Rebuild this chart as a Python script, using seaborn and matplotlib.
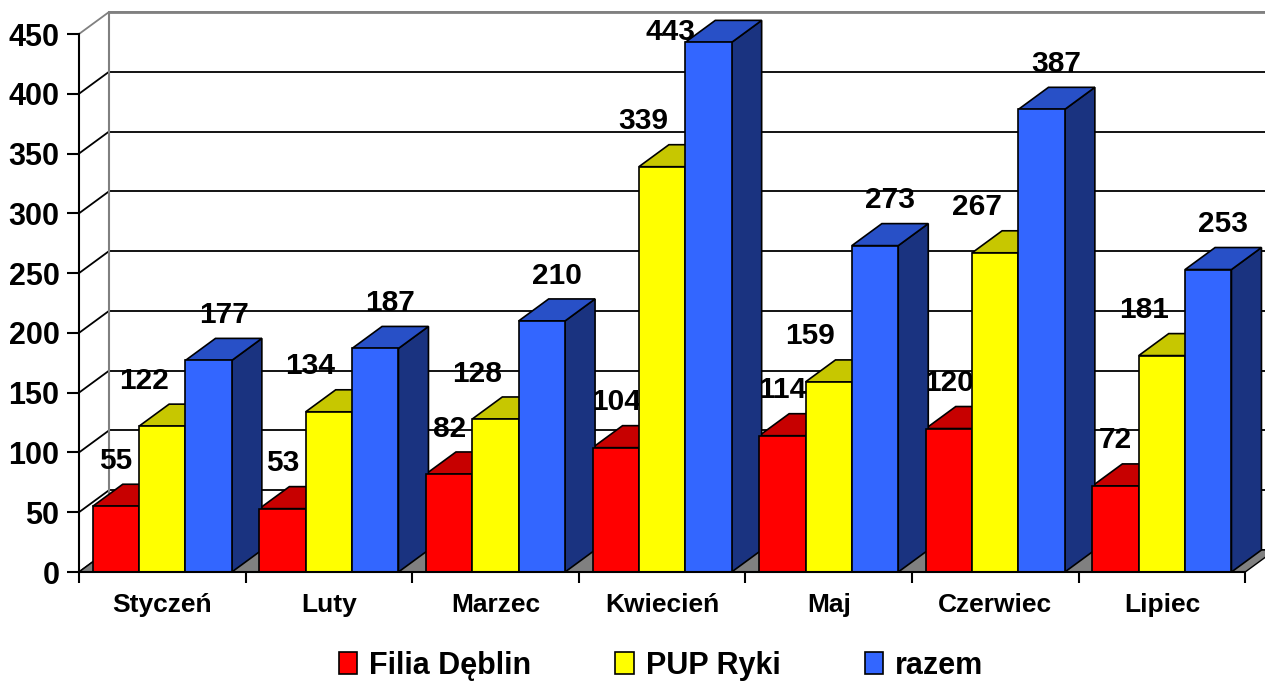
import numpy as np
import pandas as pd
import matplotlib
matplotlib.use("Agg")
import matplotlib.pyplot as plt
from matplotlib.patches import Polygon
from matplotlib.colors import to_rgb
import seaborn as sns

# ---- data ----
months = ["Styczeń", "Luty", "Marzec", "Kwiecień", "Maj", "Czerwiec", "Lipiec"]
filia_deblin = [55, 53, 82, 104, 114, 120, 72]
pup_ryki = [122, 134, 128, 339, 159, 267, 181]
razem = [177, 187, 210, 443, 273, 387, 253]
series_names = ["Filia Dęblin", "PUP Ryki", "razem"]
y_ticks = [0, 50, 100, 150, 200, 250, 300, 350, 400, 450]

colors = ["#FF0000", "#FFFF00", "#3366FF"]
# horizontal nudge of the value labels per series (category units)
label_shift = {"#FF0000": 0.0, "#FFFF00": -0.11, "#3366FF": 0.09}

df = pd.DataFrame({
    "month": months * 3,
    "series": [series_names[0]] * len(months) + [series_names[1]] * len(months) + [series_names[2]] * len(months),
    "value": filia_deblin + pup_ryki + razem,
})

sns.set_style("white")
plt.rcParams["font.family"] = ["Liberation Sans", "DejaVu Sans"]
plt.rcParams["font.weight"] = "bold"
for k in ["text.color", "axes.labelcolor", "xtick.color", "ytick.color"]:
    plt.rcParams[k] = "black"

W, H = 1265, 682
fig = plt.figure(figsize=(W / 100, H / 100), dpi=100)
ax_left, ax_bottom_px, ax_top_px, ax_right = 79, 572, 10, 1265
ax = fig.add_axes([ax_left / W, (H - ax_bottom_px) / H, (ax_right - ax_left) / W, (ax_bottom_px - ax_top_px) / H])

px_per_cat = 166.6
px_per_unit = 538 / 450.0
xmax = -0.5 + (ax_right - ax_left) / px_per_cat
ymax = (ax_bottom_px - ax_top_px) / px_per_unit

sns.barplot(data=df, x="month", y="value", hue="series", order=months, hue_order=series_names,
            palette=colors, width=0.835, edgecolor="black", linewidth=1.2, saturation=1,
            ax=ax, zorder=3)

ax.set_xlim(-0.5, xmax)
ax.set_ylim(0, ymax)

# depth offsets for pseudo-3D
dx = 30 / px_per_cat
dy = 22 / px_per_unit
n = len(months)

# back wall gridlines and side-wall diagonals
for v in y_ticks:
    c = "#808080" if v == y_ticks[-1] else "black"
    ax.plot([-0.5 + dx, xmax + 1], [v + dy, v + dy], color=c, lw=1.3, zorder=1, clip_on=True)
    ax.plot([-0.5, -0.5 + dx], [v, v + dy], color=c, lw=1.3, zorder=1, clip_on=False)
ax.plot([-0.5 + dx, -0.5 + dx], [dy, y_ticks[-1] + dy], color="#808080", lw=1.5, zorder=1.1)
ax.plot([-0.5 + dx, xmax + 1], [y_ticks[-1] + dy] * 2, color="#808080", lw=2, zorder=1.1, clip_on=False)

# floor
floor = Polygon([(-0.5, 0), (n - 0.5, 0), (n - 0.5 + dx, dy), (-0.5 + dx, dy)], closed=True,
                facecolor="#808080", edgecolor="black", lw=1, zorder=1.5)
ax.add_patch(floor)


def shade(c, f):
    r, g, b = to_rgb(c)
    return (r * f, g * f, b * f)


label_top = 452
# top and side faces from the seaborn bars
bars = [p for p in ax.patches if p is not floor and p.get_height() > 0]
for p in bars:
    x0 = p.get_x()
    x1 = x0 + p.get_width()
    h = p.get_height()
    fc = p.get_facecolor()
    side = Polygon([(x1, 0), (x1, h), (x1 + dx, h + dy), (x1 + dx, dy)], closed=True,
                   facecolor=shade(fc, 0.5), edgecolor="black", lw=1.2, zorder=2)
    top = Polygon([(x0, h), (x1, h), (x1 + dx, h + dy), (x0 + dx, h + dy)], closed=True,
                  facecolor=shade(fc, 0.78), edgecolor="black", lw=1.2, zorder=2)
    ax.add_patch(side)
    ax.add_patch(top)
    key = matplotlib.colors.to_hex(fc).upper()
    ly = h + 38
    lx = x0 + p.get_width() / 2 + label_shift.get(key, 0.0)
    if ly > label_top:
        # no room above the bar: the label slides to the left of it
        ly = label_top
        lx = x0 + p.get_width() / 2 - 0.23
    ax.text(lx, ly, f"{int(round(h))}", ha="center", va="center",
            fontsize=21.5, fontweight="bold", color="black", zorder=1.8)

# axes styling
for s in ["top", "right"]:
    ax.spines[s].set_visible(False)
ax.spines["left"].set_bounds(0, y_ticks[-1])
ax.spines["bottom"].set_bounds(-0.5, n - 0.5)
for s in ["left", "bottom"]:
    ax.spines[s].set_color("black")
    ax.spines[s].set_linewidth(1.5)
    ax.spines[s].set_zorder(4)

ax.set_yticks(y_ticks)
ax.set_yticklabels([str(v) for v in y_ticks], fontsize=22, fontweight="bold")
ax.tick_params(axis="y", direction="out", length=9, width=1.5, pad=5, colors="black", left=True)

ax.set_xticks(range(n))
ax.set_xticklabels(months, fontsize=19, fontweight="bold")
ax.tick_params(axis="x", which="major", length=0, pad=15, colors="black")
ax.set_xticks(np.arange(-0.5, n), minor=True)
ax.tick_params(axis="x", which="minor", direction="out", length=8, width=1.5, bottom=True, colors="black")
ax.set_xlabel("")
ax.set_ylabel("")
ax.grid(False)

sns.move_legend(ax, "center", bbox_to_anchor=(661 / W, 1 - 666 / H), bbox_transform=fig.transFigure,
                ncol=3, frameon=False, title=None, fontsize=22, labelcolor="black",
                handlelength=0.6, handleheight=0.72, handletextpad=0.4, columnspacing=2.75)

fig.savefig("out.png", dpi=100)
